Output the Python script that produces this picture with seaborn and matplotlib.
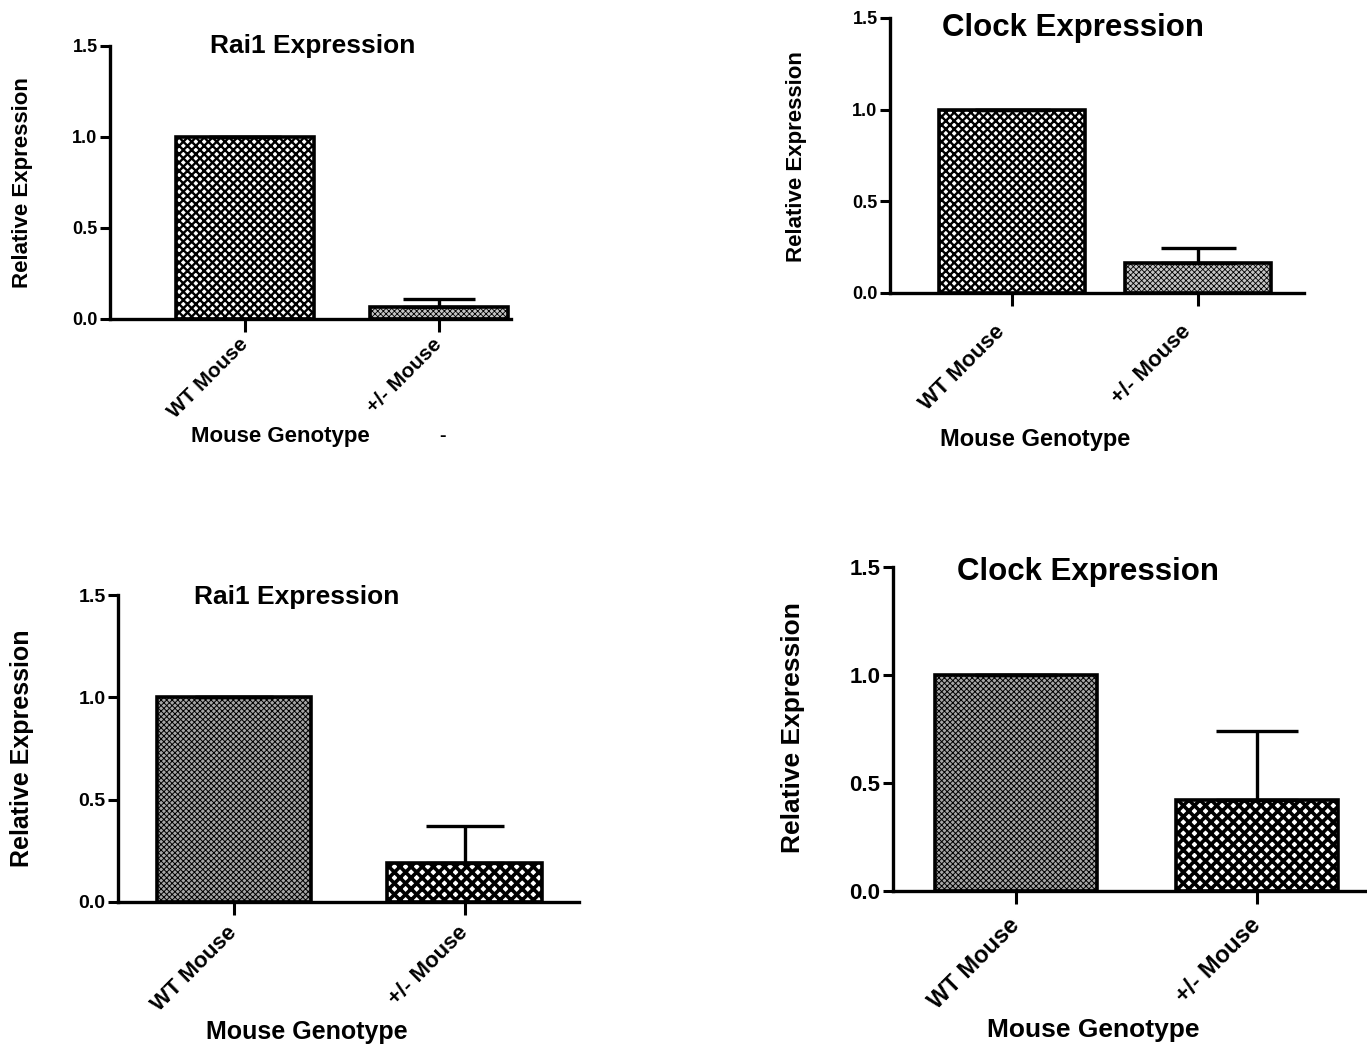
import matplotlib
matplotlib.use("Agg")
import matplotlib.pyplot as plt
import matplotlib.transforms as mtransforms
import seaborn as sns
import pandas as pd

genotypes = ["WT Mouse", "+/- Mouse"]

# four panels: Rai1 / Clock (top), Rai1 / Clock (bottom)
titles = ["Rai1 Expression", "Clock Expression", "Rai1 Expression", "Clock Expression"]
rai1_top = [1.0, 0.065]
rai1_top_err = [0.0, 0.045]
clock_top = [1.0, 0.165]
clock_top_err = [0.0, 0.08]
rai1_bottom = [1.0, 0.19]
rai1_bottom_err = [0.0, 0.18]
clock_bottom = [1.0, 0.42]
clock_bottom_err = [0.0, 0.32]

yticks = [0.0, 0.5, 1.0, 1.5]

sns.set_style("ticks")
plt.rcParams["font.family"] = ["Liberation Sans", "DejaVu Sans"]
plt.rcParams["font.weight"] = "bold"
plt.rcParams["text.color"] = "black"
plt.rcParams["axes.labelcolor"] = "black"
plt.rcParams["xtick.color"] = "black"
plt.rcParams["ytick.color"] = "black"
plt.rcParams["hatch.linewidth"] = 1.4

W, H = 1367, 1050
fig = plt.figure(figsize=(W / 100, H / 100), dpi=100)


def rect(left, right, top, bottom):
    return [left / W, 1 - bottom / H, (right - left) / W, (bottom - top) / H]


def draw_panel(box, title, vals, errs, xlim, width, styles, sizes, pos):
    ax = fig.add_axes(rect(*box))
    df = pd.DataFrame({"genotype": genotypes, "value": vals})
    sns.barplot(data=df, x="genotype", y="value", ax=ax, color="white",
                edgecolor="black", linewidth=2.6, width=width, errorbar=None)
    for p, (fc, hatch, hlw) in zip(ax.patches, styles):
        p.set_facecolor(fc)
        p.set_hatch(hatch)
        if hasattr(p, "set_hatch_linewidth"):
            p.set_hatch_linewidth(hlw)
    ax.errorbar([0, 1], vals, yerr=[[0, 0], errs], fmt="none", ecolor="black",
                elinewidth=2.4, capsize=sizes["cap"], capthick=2.4, zorder=1)
    ax.set_ylim(0, 1.5)
    ax.set_xlim(*xlim)
    ax.set_yticks(yticks)
    ax.set_yticklabels([f"{t:.1f}" for t in yticks], fontsize=sizes["tick"], fontweight="bold")
    ax.set_xticks([0, 1])
    ax.set_xticklabels(genotypes, fontsize=sizes["xtick"], fontweight="bold",
                       rotation=45, ha="right", va="center", rotation_mode="anchor")
    ax.tick_params(axis="y", length=7, width=2.2, pad=2, color="black")
    ax.tick_params(axis="x", length=9, width=2.2, pad=sizes["xpad"], color="black")
    dx, dy = pos.get("xshift", (0, 0))
    shift = mtransforms.ScaledTranslation(dx / 100, dy / 100, fig.dpi_scale_trans)
    for lab in ax.get_xticklabels():
        lab.set_transform(lab.get_transform() + shift)
    for s in ["left", "bottom"]:
        ax.spines[s].set_linewidth(2.4)
        ax.spines[s].set_color("black")
    sns.despine(ax=ax)
    ax.set_xlabel("Mouse Genotype", fontsize=sizes["xlabel"], fontweight="bold")
    ax.xaxis.label.set_va("center")
    ax.xaxis.set_label_coords(*pos["xlabel"])
    ax.set_ylabel("Relative Expression", fontsize=sizes["ylabel"], fontweight="bold")
    ax.yaxis.label.set_va("center")
    ax.yaxis.set_label_coords(*pos["ylabel"])
    ax.text(pos["title"][0], pos["title"][1], title, transform=ax.transAxes,
            ha="center", va="center", fontsize=sizes["title"], fontweight="bold")
    return ax


coarse = ("white", "xxxx", 1.7)
fine_light = ("#c4c4c4", "xxxxxx", 0.6)
fine_dark = ("#a6a6a6", "xxxxxx", 0.7)
big_check = ("white", "xxx", 2.6)

ax1 = draw_panel((110, 511, 46, 319), titles[0], rai1_top, rai1_top_err,
                 (-0.696, 1.371), 0.71, [coarse, fine_light],
                 dict(tick=13, xtick=15, xlabel=16, ylabel=16, title=19, cap=26, xpad=7),
                 dict(xlabel=(0.424, -0.432), ylabel=(-0.219, 0.498), title=(0.506, 1.0)))
ax1.text(0.83, -0.432, "-", transform=ax1.transAxes, ha="center", va="center",
         fontsize=14, fontweight="bold")

draw_panel((890, 1304, 18, 293), titles[1], clock_top, clock_top_err,
           (-0.656, 1.57), 0.78, [coarse, fine_light],
           dict(tick=13, xtick=16, xlabel=17, ylabel=16, title=22.5, cap=27, xpad=14),
           dict(xlabel=(0.35, -0.531), ylabel=(-0.225, 0.495), title=(0.442, 0.964),
                xshift=(-10, -4)))

draw_panel((118, 579, 595, 902), titles[2], rai1_bottom, rai1_bottom_err,
           (-0.503, 1.496), 0.67, [fine_dark, big_check],
           dict(tick=14, xtick=16, xlabel=18, ylabel=18, title=19, cap=28, xpad=11),
           dict(xlabel=(0.41, -0.423), ylabel=(-0.208, 0.50), title=(0.388, 0.993)))

draw_panel((893, 1366, 567, 891), titles[3], clock_bottom, clock_bottom_err,
           (-0.510, 1.452), 0.67, [fine_dark, big_check],
           dict(tick=16, xtick=17, xlabel=19, ylabel=19, title=22.5, cap=29.5, xpad=13),
           dict(xlabel=(0.423, -0.429), ylabel=(-0.211, 0.503), title=(0.412, 0.985)))

fig.savefig("out.png", dpi=100, facecolor="white")
